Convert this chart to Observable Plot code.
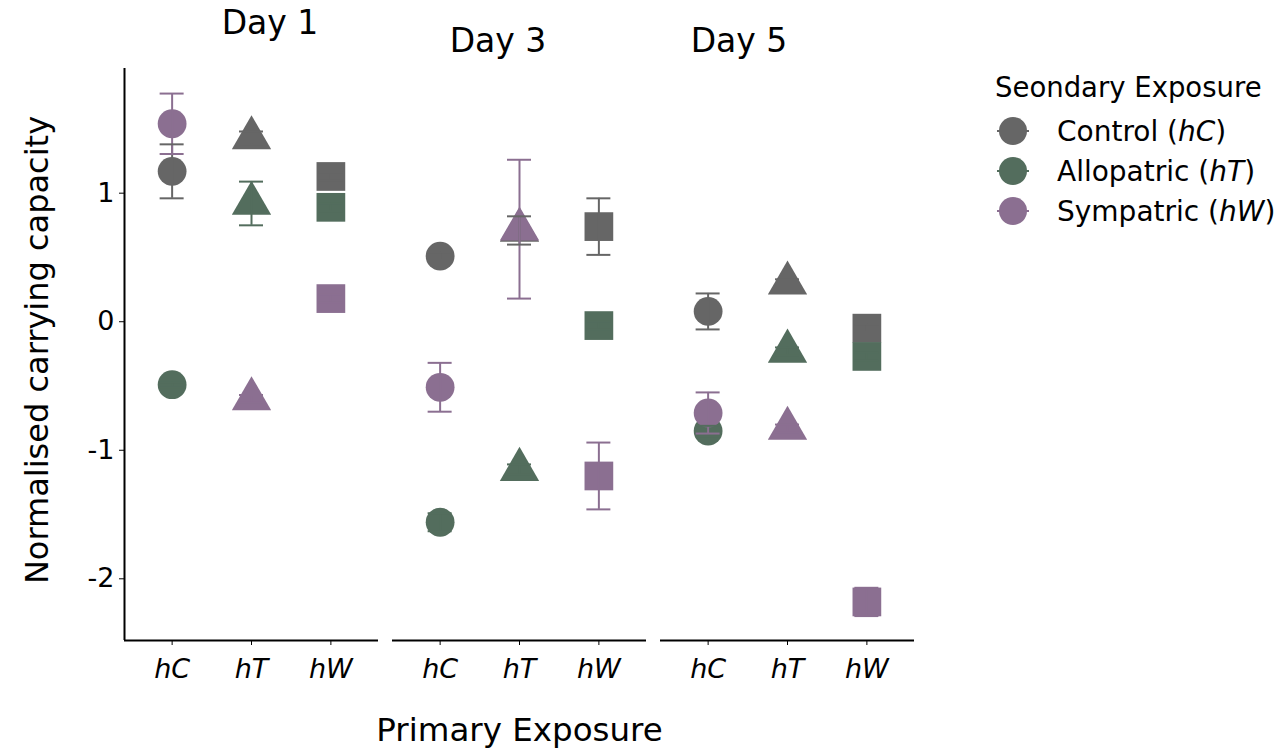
<!DOCTYPE html>
<html>
<head>
<meta charset="utf-8">
<script src="https://cdn.jsdelivr.net/npm/d3@7"></script>
<script src="https://cdn.jsdelivr.net/npm/@observablehq/plot@0.6"></script>
<style>
  html, body { margin: 0; padding: 0; background: #fff; }
  #chart { position: relative; width: 1286px; height: 749px; font-family: "DejaVu Sans", Verdana, sans-serif; }
</style>
</head>
<body>
<div id="chart"></div>
<script>
// ---- data ----
const days = ["Day 1", "Day 3", "Day 5"];
const primaries = ["hC", "hT", "hW"];
const secondaries = ["Control", "Allopatric", "Sympatric"];
const secondaryCodes = ["hC", "hT", "hW"];
const colors = ["#666666", "#536d5d", "#8b6f91"];
const yTicks = [-2, -1, 0, 1];

// means[day][primary] = [Control, Allopatric, Sympatric]
const meansDay1 = [[1.17, -0.49, 1.54], [1.43, 0.92, -0.60], [1.13, 0.89, 0.18]];
const meansDay3 = [[0.51, -1.56, -0.51], [0.71, -1.15, 0.72], [0.74, -0.03, -1.20]];
const meansDay5 = [[0.08, -0.85, -0.71], [0.30, -0.23, -0.83], [-0.05, -0.27, -2.18]];
const seDay1 = [[0.21, 0.02, 0.235], [0.05, 0.17, 0.03], [0.03, 0.03, 0.03]];
const seDay3 = [[0.03, 0.07, 0.19], [0.11, 0.04, 0.54], [0.22, 0.03, 0.26]];
const seDay5 = [[0.14, 0.04, 0.16], [0.03, 0.03, 0.03], [0.03, 0.03, 0.11]];

const allMeans = [meansDay1, meansDay3, meansDay5];
const allSe = [seDay1, seDay3, seDay5];

const rows = [];
days.forEach((day, di) => {
  primaries.forEach((p, pi) => {
    secondaries.forEach((s, si) => {
      const m = allMeans[di][pi][si], e = allSe[di][pi][si];
      rows.push({day, primary: p, pIndex: pi + 1, secondary: s, mean: m, lo: m - e, hi: m + e});
    });
  });
});

const xDomain = [0.4, 3.6];
const yDomain = [-2.48, 1.97];
const shapes = {hC: {symbol: "circle", r: 14.4}, hT: {symbol: "triangle", r: 14.6}, hW: {symbol: "square", r: 16.2}};

const dotMarks = primaries.map(p => Plot.dot(rows.filter(d => d.primary === p), {
  fx: "day", x: "pIndex", y: "mean", fill: "secondary",
  symbol: shapes[p].symbol, r: shapes[p].r
}));

const plot = Plot.plot({
  width: 1286,
  height: 749,
  marginLeft: 123,
  marginRight: 370,
  marginTop: 68,
  marginBottom: 109,
  style: {fontFamily: "DejaVu Sans, Verdana, sans-serif", background: "#fff", color: "#000"},
  fx: {domain: days, paddingInner: 0.052, paddingOuter: 0, axis: null, label: null},
  x: {domain: xDomain, axis: null, label: null},
  y: {domain: yDomain, axis: null, label: null},
  color: {domain: secondaries, range: colors},
  marks: [
    ...dotMarks,
    Plot.ruleX(rows, {fx: "day", x: "pIndex", y1: "lo", y2: "hi", stroke: "secondary", strokeWidth: 2}),
    Plot.ruleY(rows, {fx: "day", y: "lo", x1: "pIndex", x2: "pIndex", insetLeft: -12, insetRight: -12, stroke: "secondary", strokeWidth: 2}),
    Plot.ruleY(rows, {fx: "day", y: "hi", x1: "pIndex", x2: "pIndex", insetLeft: -12, insetRight: -12, stroke: "secondary", strokeWidth: 2}),
    Plot.ruleY([yDomain[0]], {stroke: "#000", strokeWidth: 2}),
    Plot.ruleX([{day: days[0], x: xDomain[0]}], {fx: "day", x: "x", stroke: "#000", strokeWidth: 2}),
    Plot.axisY({ticks: yTicks, tickFormat: d => String(d), fontSize: 27, tickSize: 5, tickPadding: 5, label: null, color: "#000"}),
    Plot.axisX({ticks: [1, 2, 3], tickFormat: i => primaries[i - 1], fontSize: 27, fontStyle: "italic", tickSize: 5, tickPadding: 13, label: null, color: "#000"})
  ]
});

const chart = document.getElementById("chart");
chart.appendChild(plot);

const svg = d3.select(plot);
const font = "DejaVu Sans, Verdana, sans-serif";

// facet titles
const dayPos = [[270, 34], [498, 52], [739, 52]];
days.forEach((d, i) => {
  svg.append("text").attr("x", dayPos[i][0]).attr("y", dayPos[i][1])
    .attr("text-anchor", "middle").attr("font-size", 33).attr("font-family", font).attr("fill", "#000").text(d);
});

// axis titles
svg.append("text").attr("x", 519.5).attr("y", 741)
  .attr("text-anchor", "middle").attr("font-size", 32.5).attr("font-family", font).attr("fill", "#000").text("Primary Exposure");
svg.append("text").attr("transform", "translate(48,350) rotate(-90)")
  .attr("text-anchor", "middle").attr("font-size", 32).attr("font-family", font).attr("fill", "#000").text("Normalised carrying capacity");

// legend
svg.append("text").attr("x", 995).attr("y", 97).attr("text-anchor", "start").attr("font-size", 27.5).attr("font-family", font).attr("fill", "#000").text("Seondary Exposure");
secondaries.forEach((s, i) => {
  const cy = 131 + i * 40;
  svg.append("circle").attr("cx", 1013).attr("cy", cy).attr("r", 14).attr("fill", colors[i]);
  svg.append("line").attr("x1", 997).attr("x2", 1029).attr("y1", cy).attr("y2", cy).attr("stroke", colors[i]).attr("stroke-width", 2);
  const t = svg.append("text").attr("x", 1057).attr("y", cy + 10).attr("text-anchor", "start").attr("font-size", 28).attr("font-family", font).attr("fill", "#000");
  t.append("tspan").text(s + " (");
  t.append("tspan").attr("font-style", "italic").text(secondaryCodes[i]);
  t.append("tspan").text(")");
});
</script>
</body>
</html>
